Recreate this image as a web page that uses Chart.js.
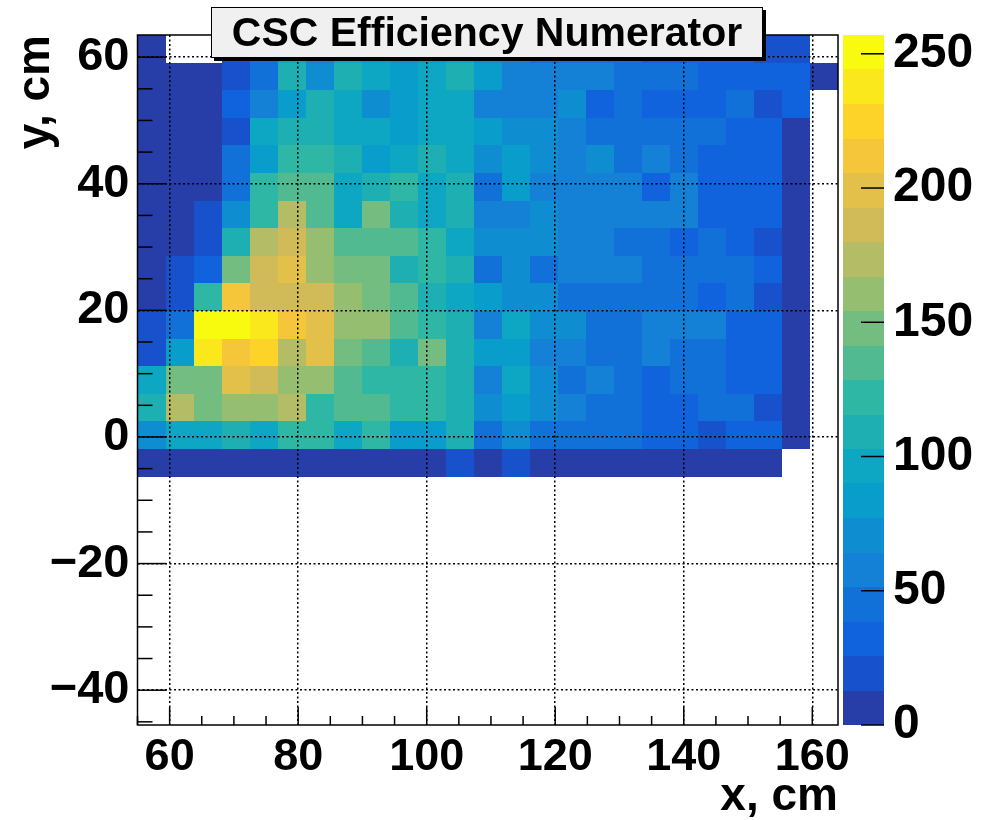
<!DOCTYPE html>
<html>
<head>
<meta charset="utf-8">
<script src="https://cdn.jsdelivr.net/npm/chart.js@4.4.1/dist/chart.umd.min.js"></script>
<style>
  html, body { margin: 0; padding: 0; background: #fff; }
</style>
</head>
<body>
<canvas id="cscChart" width="996" height="820"></canvas>
<script>
// axis ranges (cm) and bin edges of the 2d histogram
const xMin = 55, xMax = 164;
const yMin = -45.5, yMax = 63.5;
const xEdges = [55.00, 59.36, 63.72, 68.08, 72.44, 76.80, 81.16, 85.52, 89.88, 94.24, 98.60, 102.96, 107.32,
  111.68, 116.04, 120.40, 124.76, 129.12, 133.48, 137.84, 142.20, 146.56, 150.92, 155.28, 159.64, 164.00];
// y edges from the top row down (bins below -6.26 are empty)
const yEdges = [63.50, 59.14, 54.78, 50.42, 46.06, 41.70, 37.34, 32.98, 28.62, 24.26, 19.90, 15.54, 11.18, 6.82, 2.46, -1.90, -6.26];

// bin contents, one array per y row (top to bottom), 25 x bins each
const row61 = [5, 0, 0, 18, 40, 90, 60, 95, 82, 70, 80, 90, 65, 52, 50, 48, 45, 42, 38, 36, 34, 30, 20, 21, 0];
const row57 = [4, 7, 6, 20, 44, 108, 70, 110, 95, 85, 97, 107, 83, 57, 60, 58, 56, 46, 44, 43, 31, 33, 30, 32, 8];
const row53 = [6, 5, 8, 31, 59, 83, 111, 97, 72, 85, 95, 98, 58, 56, 60, 70, 33, 45, 30, 33, 31, 46, 20, 34, 0];
const row48 = [7, 6, 9, 21, 97, 108, 110, 94, 98, 86, 96, 99, 84, 70, 72, 57, 44, 46, 45, 43, 44, 32, 33, 7, 0];
const row44 = [6, 8, 7, 45, 83, 121, 123, 110, 84, 96, 108, 95, 71, 85, 72, 59, 71, 44, 58, 46, 31, 32, 33, 6, 0];
const row40 = [7, 6, 9, 46, 122, 135, 134, 96, 110, 120, 97, 109, 45, 84, 58, 57, 59, 58, 31, 57, 32, 33, 30, 8, 0];
const row35 = [8, 7, 20, 70, 123, 174, 136, 95, 148, 109, 96, 108, 58, 57, 71, 58, 59, 57, 58, 56, 31, 33, 32, 7, 0];
const row31 = [6, 9, 21, 110, 175, 187, 160, 135, 133, 136, 122, 97, 70, 71, 72, 57, 58, 45, 44, 32, 45, 33, 20, 6, 0];
const row26 = [7, 19, 33, 148, 186, 200, 162, 147, 149, 108, 121, 110, 44, 71, 46, 58, 60, 57, 45, 44, 46, 44, 32, 8, 0];
const row22 = [8, 20, 122, 211, 187, 185, 188, 161, 147, 134, 109, 96, 83, 70, 71, 45, 44, 46, 45, 44, 32, 45, 19, 7, 0];
const row18 = [19, 45, 257, 254, 239, 212, 199, 160, 162, 135, 122, 108, 58, 97, 72, 71, 45, 46, 58, 57, 58, 32, 33, 6, 0];
const row13 = [20, 84, 238, 212, 225, 174, 198, 148, 135, 109, 147, 110, 84, 85, 58, 57, 45, 44, 57, 45, 44, 31, 32, 7, 0];
const row9 = [96, 148, 147, 199, 186, 161, 160, 134, 122, 121, 123, 109, 57, 96, 71, 45, 58, 46, 32, 44, 45, 33, 31, 8, 0];
const row5 = [109, 173, 148, 160, 162, 172, 122, 135, 136, 121, 120, 108, 70, 84, 72, 58, 45, 44, 32, 33, 46, 44, 20, 6, 0];
const row0 = [71, 96, 97, 109, 95, 122, 121, 96, 122, 84, 83, 110, 45, 71, 44, 45, 46, 44, 31, 32, 19, 33, 32, 7, 0];
const rowM4 = [7, 6, 8, 9, 7, 8, 6, 9, 8, 7, 6, 20, 7, 19, 8, 7, 6, 8, 7, 9, 6, 8, 7, 0, 0];
const rows = [row61, row57, row53, row48, row44, row40, row35, row31, row26, row22, row18, row13, row9, row5, row0, rowM4];

// tick labels
const xTicks = [60, 80, 100, 120, 140, 160];
const yTicks = [-40, -20, 0, 20, 40, 60];
const zTicks = [0, 50, 100, 150, 200, 250];

const zMax = Math.max(...rows.flat());
const nLevels = 20;

// root kBird palette
const birdStops = [0.0, 0.125, 0.25, 0.375, 0.5, 0.625, 0.75, 0.875, 1.0];
const birdRed = [0.2082, 0.0592, 0.0780, 0.0232, 0.1802, 0.5301, 0.8186, 0.9956, 0.9764];
const birdGreen = [0.1664, 0.3599, 0.5041, 0.6419, 0.7178, 0.7492, 0.7328, 0.7862, 0.9832];
const birdBlue = [0.5293, 0.8684, 0.8385, 0.7914, 0.6425, 0.4662, 0.3499, 0.1968, 0.0539];

function bird(f) {
  let k = 0;
  while (k < birdStops.length - 2 && f > birdStops[k + 1]) k++;
  const t = (f - birdStops[k]) / (birdStops[k + 1] - birdStops[k]);
  const c = arr => Math.round(255 * (arr[k] + (arr[k + 1] - arr[k]) * t));
  return `rgb(${c(birdRed)},${c(birdGreen)},${c(birdBlue)})`;
}

// colour of contour level i, same index rule as root
function levelColor(i) {
  const idx = Math.floor((i + 0.99) * 255 / nLevels);
  return bird(Math.min(idx, 254) / 254);
}

function valueColor(v) {
  const lvl = Math.min(nLevels - 1, Math.floor(v / zMax * nLevels));
  return levelColor(lvl);
}

const fam = 'Liberation Sans';
const xFont = { family: fam, size: 45, weight: 'bold' };
const yFont = { family: fam, size: 47, weight: 'bold' };
const zFont = { family: fam, size: 48, weight: 'bold' };
const titleFont = { family: fam, size: 46, weight: 'bold', lineHeight: 1 };
const minus = v => (v < 0 ? '\u2212' + Math.abs(v) : String(v));

// cells drawn before datasets, grid goes on top (grid z = 1)
const heatmap = {
  id: 'heatmap',
  beforeDatasetsDraw(chart) {
    const { ctx, chartArea, scales: { x, y } } = chart;
    ctx.save();
    ctx.beginPath();
    ctx.rect(chartArea.left, chartArea.top, chartArea.right - chartArea.left, chartArea.bottom - chartArea.top);
    ctx.clip();
    rows.forEach((row, j) => {
      const y0 = Math.round(y.getPixelForValue(yEdges[j]));
      const y1 = Math.round(y.getPixelForValue(yEdges[j + 1]));
      row.forEach((v, i) => {
        if (v <= 0) return;
        const x0 = Math.round(x.getPixelForValue(xEdges[i]));
        const x1 = Math.round(x.getPixelForValue(xEdges[i + 1]));
        ctx.fillStyle = valueColor(v);
        ctx.fillRect(x0, y0, x1 - x0, y1 - y0);
      });
    });
    ctx.restore();
  },
  afterDraw(chart) {
    const { ctx, chartArea, scales: { x, y, zAxis } } = chart;
    ctx.save();

    // palette bar
    const barL = zAxis.left + 5, barR = zAxis.left + 46;
    for (let i = 0; i < nLevels; i++) {
      const b0 = zAxis.getPixelForValue(i * zMax / nLevels);
      const b1 = zAxis.getPixelForValue((i + 1) * zMax / nLevels);
      ctx.fillStyle = levelColor(i);
      ctx.fillRect(barL, Math.round(b1), barR - barL, Math.round(b0) - Math.round(b1));
    }
    ctx.strokeStyle = '#000';
    ctx.lineWidth = 1.5;
    zTicks.forEach(v => {
      const py = zAxis.getPixelForValue(v);
      ctx.beginPath();
      ctx.moveTo(barR, py);
      ctx.lineTo(barR - 23, py);
      ctx.stroke();
    });

    // frame
    ctx.lineWidth = 1.5;
    ctx.strokeRect(chartArea.left, chartArea.top, chartArea.right - chartArea.left, chartArea.bottom - chartArea.top);

    // inward ticks, major and minor every 5 cm
    for (let v = 55; v <= xMax; v += 5) {
      const px = x.getPixelForValue(v);
      const len = xTicks.includes(v) ? 18 : 9;
      ctx.beginPath();
      ctx.moveTo(px, chartArea.bottom);
      ctx.lineTo(px, chartArea.bottom - len);
      ctx.stroke();
    }
    for (let v = -45; v <= yMax; v += 5) {
      const py = y.getPixelForValue(v);
      const len = yTicks.includes(v) ? 29 : 15;
      ctx.beginPath();
      ctx.moveTo(chartArea.left, py);
      ctx.lineTo(chartArea.left + len, py);
      ctx.stroke();
    }

    // title box with shadow
    const tx = 211, ty = 7, tw = 552, th = 51;
    ctx.fillStyle = '#000';
    ctx.fillRect(tx + 3, ty + 3, tw, th);
    ctx.fillStyle = '#f0f0f0';
    ctx.fillRect(tx, ty, tw, th);
    ctx.lineWidth = 1;
    ctx.strokeRect(tx + 0.5, ty + 0.5, tw - 1, th - 1);
    ctx.fillStyle = '#000';
    ctx.font = 'bold 41px "Liberation Sans"';
    ctx.textAlign = 'center';
    ctx.textBaseline = 'middle';
    ctx.fillText('CSC Efficiency Numerator', tx + tw / 2, ty + th / 2 + 2);
    ctx.restore();
  }
};

const ctx = document.getElementById('cscChart').getContext('2d');
const chart = new Chart(ctx, {
  type: 'scatter',
  data: { datasets: [] },
  options: {
    responsive: false,
    animation: false,
    layout: { padding: { top: 35, left: 0, right: 0, bottom: 0 } },
    plugins: { legend: { display: false }, tooltip: { enabled: false } },
    scales: {
      x: {
        type: 'linear', position: 'bottom', min: xMin, max: xMax,
        afterBuildTicks: s => { s.ticks = xTicks.map(v => ({ value: v })); },
        afterFit: s => { s.height = 95; s.paddingLeft = 0; s.paddingRight = 0; },
        grid: { color: '#000', lineWidth: 1.5, drawTicks: false, z: 1 },
        border: { display: false, dash: [2, 2.5] },
        ticks: { font: xFont, color: '#000', padding: 6, maxRotation: 0, autoSkip: false, callback: minus },
        title: { display: true, text: 'x, cm', align: 'end', font: titleFont, color: '#000', padding: 0 }
      },
      y: {
        type: 'linear', position: 'left', min: yMin, max: yMax,
        afterBuildTicks: s => { s.ticks = yTicks.map(v => ({ value: v })); },
        afterFit: s => { s.width = 137.5; s.paddingTop = 0; s.paddingBottom = 0; },
        grid: { color: '#000', lineWidth: 1.5, drawTicks: false, z: 1 },
        border: { display: false, dash: [2, 2.5] },
        ticks: { font: yFont, color: '#000', padding: 8, autoSkip: false, callback: minus },
        title: { display: true, text: 'y, cm', align: 'end', font: titleFont, color: '#000', padding: { top: 13 } }
      },
      zAxis: {
        type: 'linear', axis: 'y', position: 'right', min: 0, max: zMax,
        afterBuildTicks: s => { s.ticks = zTicks.map(v => ({ value: v })); },
        afterFit: s => { s.width = 158; s.paddingTop = 0; s.paddingBottom = 0; },
        grid: { display: false, drawTicks: false },
        border: { display: false },
        ticks: { font: zFont, color: '#000', padding: 55, autoSkip: false }
      }
    }
  },
  plugins: [heatmap]
});
</script>
</body>
</html>
